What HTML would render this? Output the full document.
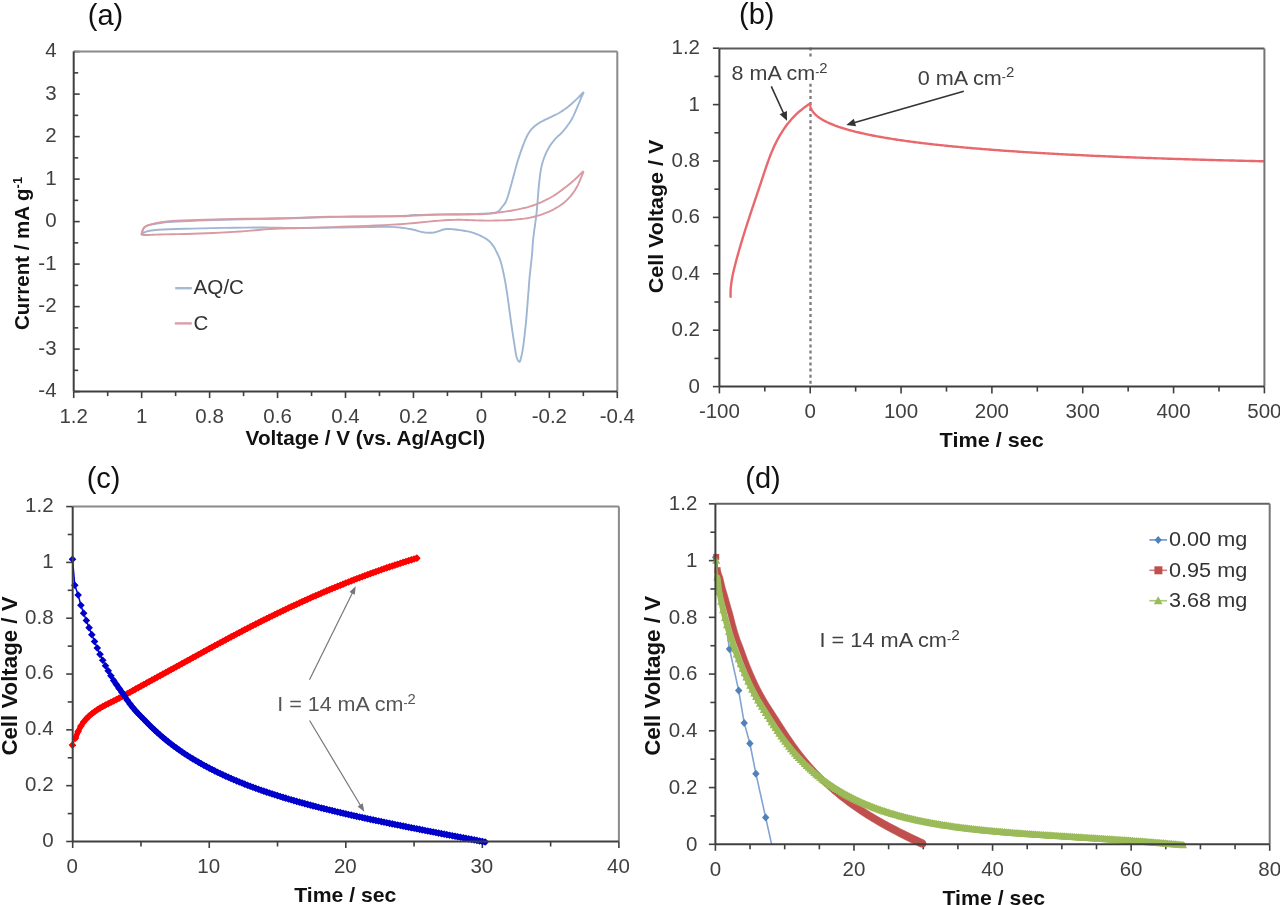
<!DOCTYPE html>
<html><head><meta charset="utf-8"><style>
html,body{margin:0;padding:0;background:#fff;width:1280px;height:905px;overflow:hidden}
</style></head><body>
<svg width="1280" height="905" viewBox="0 0 1280 905" style="position:absolute;left:0;top:0;filter:blur(0.55px)">
<defs>
<marker id="mb" viewBox="-5 -5 10 10" markerWidth="10" markerHeight="10" markerUnits="userSpaceOnUse" orient="0"><path d="M0,-3.8L3.8,0L0,3.8L-3.8,0Z" fill="#0000cc"/></marker>
<marker id="mr" viewBox="-4 -4 8 8" markerWidth="8" markerHeight="8" markerUnits="userSpaceOnUse" orient="0"><path d="M0,-3.8L3.8,0L0,3.8L-3.8,0Z" fill="#ff0000"/></marker>
<marker id="ms" viewBox="-4 -4 8 8" markerWidth="8" markerHeight="8" markerUnits="userSpaceOnUse" orient="0"><path d="M-3,-3H3V3H-3Z" fill="#c0504d"/></marker>
<marker id="mt" viewBox="-4 -4 8 8" markerWidth="8" markerHeight="8" markerUnits="userSpaceOnUse" orient="0"><path d="M0,-4.1L4.1,3.3L-4.1,3.3Z" fill="#9bbb59"/></marker>
</defs>
<g font-family='"Liberation Sans", sans-serif'>
<text x="87.8" y="25" font-size="29" fill="#111" text-anchor="start" font-weight="normal" >(a)</text>
<line x1="73.7" y1="391.6" x2="79.7" y2="391.6" stroke="#3f3f3f" stroke-width="1.6" />
<line x1="73.7" y1="370.35" x2="78.2" y2="370.35" stroke="#3f3f3f" stroke-width="1.6" />
<line x1="73.7" y1="349.1" x2="79.7" y2="349.1" stroke="#3f3f3f" stroke-width="1.6" />
<line x1="73.7" y1="327.85" x2="78.2" y2="327.85" stroke="#3f3f3f" stroke-width="1.6" />
<line x1="73.7" y1="306.6" x2="79.7" y2="306.6" stroke="#3f3f3f" stroke-width="1.6" />
<line x1="73.7" y1="285.35" x2="78.2" y2="285.35" stroke="#3f3f3f" stroke-width="1.6" />
<line x1="73.7" y1="264.1" x2="79.7" y2="264.1" stroke="#3f3f3f" stroke-width="1.6" />
<line x1="73.7" y1="242.85" x2="78.2" y2="242.85" stroke="#3f3f3f" stroke-width="1.6" />
<line x1="73.7" y1="221.6" x2="79.7" y2="221.6" stroke="#3f3f3f" stroke-width="1.6" />
<line x1="73.7" y1="200.35" x2="78.2" y2="200.35" stroke="#3f3f3f" stroke-width="1.6" />
<line x1="73.7" y1="179.1" x2="79.7" y2="179.1" stroke="#3f3f3f" stroke-width="1.6" />
<line x1="73.7" y1="157.85" x2="78.2" y2="157.85" stroke="#3f3f3f" stroke-width="1.6" />
<line x1="73.7" y1="136.6" x2="79.7" y2="136.6" stroke="#3f3f3f" stroke-width="1.6" />
<line x1="73.7" y1="115.35" x2="78.2" y2="115.35" stroke="#3f3f3f" stroke-width="1.6" />
<line x1="73.7" y1="94.1" x2="79.7" y2="94.1" stroke="#3f3f3f" stroke-width="1.6" />
<line x1="73.7" y1="72.85" x2="78.2" y2="72.85" stroke="#3f3f3f" stroke-width="1.6" />
<line x1="73.7" y1="51.6" x2="79.7" y2="51.6" stroke="#3f3f3f" stroke-width="1.6" />
<line x1="73.7" y1="391.6" x2="73.7" y2="398.1" stroke="#3f3f3f" stroke-width="1.6" />
<line x1="107.68" y1="391.6" x2="107.68" y2="396.1" stroke="#3f3f3f" stroke-width="1.6" />
<line x1="141.65" y1="391.6" x2="141.65" y2="398.1" stroke="#3f3f3f" stroke-width="1.6" />
<line x1="175.62" y1="391.6" x2="175.62" y2="396.1" stroke="#3f3f3f" stroke-width="1.6" />
<line x1="209.6" y1="391.6" x2="209.6" y2="398.1" stroke="#3f3f3f" stroke-width="1.6" />
<line x1="243.57" y1="391.6" x2="243.57" y2="396.1" stroke="#3f3f3f" stroke-width="1.6" />
<line x1="277.55" y1="391.6" x2="277.55" y2="398.1" stroke="#3f3f3f" stroke-width="1.6" />
<line x1="311.53" y1="391.6" x2="311.53" y2="396.1" stroke="#3f3f3f" stroke-width="1.6" />
<line x1="345.5" y1="391.6" x2="345.5" y2="398.1" stroke="#3f3f3f" stroke-width="1.6" />
<line x1="379.48" y1="391.6" x2="379.48" y2="396.1" stroke="#3f3f3f" stroke-width="1.6" />
<line x1="413.45" y1="391.6" x2="413.45" y2="398.1" stroke="#3f3f3f" stroke-width="1.6" />
<line x1="447.43" y1="391.6" x2="447.43" y2="396.1" stroke="#3f3f3f" stroke-width="1.6" />
<line x1="481.4" y1="391.6" x2="481.4" y2="398.1" stroke="#3f3f3f" stroke-width="1.6" />
<line x1="515.38" y1="391.6" x2="515.38" y2="396.1" stroke="#3f3f3f" stroke-width="1.6" />
<line x1="549.35" y1="391.6" x2="549.35" y2="398.1" stroke="#3f3f3f" stroke-width="1.6" />
<line x1="583.33" y1="391.6" x2="583.33" y2="396.1" stroke="#3f3f3f" stroke-width="1.6" />
<line x1="617.3" y1="391.6" x2="617.3" y2="398.1" stroke="#3f3f3f" stroke-width="1.6" />
<polyline points="141.5,234 141.82,233.14 142.14,231.91 142.59,230.47 143.24,228.98 144.22,227.61 145.6,226.5 147.51,225.66 149.87,224.96 152.56,224.38 155.4,223.87 158.27,223.42 161,223 163.27,222.64 165.14,222.36 167.03,222.14 169.35,221.94 172.53,221.74 177,221.5 182.87,221.22 189.81,220.93 197.62,220.64 206.07,220.34 214.94,220.06 224,219.8 233.67,219.56 244.22,219.34 255.19,219.14 266.11,218.93 276.53,218.72 286,218.5 294.07,218.25 301.04,217.98 307.5,217.71 314.07,217.44 321.37,217.2 330,217 340.8,216.86 353.44,216.76 366.81,216.69 379.78,216.63 391.22,216.54 400,216.4 405.34,216.21 407.96,215.97 409.06,215.71 409.81,215.45 411.4,215.21 415,215 421.05,214.83 428.7,214.67 437.19,214.54 445.74,214.41 453.6,214.3 460,214.2 464.9,214.11 468.89,214.04 472.19,213.99 475,213.93 477.53,213.87 480,213.8 482.27,213.72 484.16,213.65 485.77,213.57 487.21,213.47 488.58,213.35 490,213.2 491.46,213.04 492.86,212.89 494.21,212.71 495.47,212.47 496.64,212.15 497.7,211.7 498.61,211.13 499.38,210.45 500.05,209.68 500.68,208.84 501.31,207.94 502,207 502.73,206.11 503.46,205.29 504.19,204.41 504.93,203.35 505.7,201.99 506.5,200.2 507.34,197.9 508.21,195.17 509.1,192.14 510,188.93 510.91,185.67 511.8,182.5 512.68,179.32 513.57,176.03 514.45,172.69 515.33,169.37 516.22,166.15 517.1,163.1 517.98,160.21 518.87,157.41 519.75,154.71 520.63,152.11 521.52,149.61 522.4,147.2 523.28,144.87 524.17,142.61 525.05,140.45 525.93,138.41 526.82,136.52 527.7,134.8 528.56,133.29 529.4,131.97 530.24,130.81 531.1,129.74 532.01,128.72 533,127.7 534.04,126.71 535.1,125.8 536.22,124.94 537.41,124.1 538.69,123.26 540.1,122.4 541.68,121.51 543.44,120.6 545.29,119.69 547.17,118.8 549,117.93 550.7,117.1 552.27,116.34 553.76,115.63 555.21,114.96 556.63,114.27 558.05,113.53 559.5,112.7 560.98,111.79 562.46,110.83 563.95,109.82 565.44,108.76 566.92,107.65 568.4,106.5 569.9,105.26 571.44,103.93 572.97,102.55 574.46,101.17 575.88,99.84 577.2,98.6 578.48,97.33 579.78,95.97 581,94.66 582.07,93.53 582.89,92.73 583.4,92.4 583.49,92.66 583.22,93.41 582.71,94.5 582.09,95.74 581.48,96.96 581,98 580.7,98.74 580.49,99.31 580.29,99.86 580.03,100.55 579.62,101.54 579,103 578.13,105.06 577.08,107.62 575.88,110.49 574.59,113.46 573.25,116.33 571.9,118.9 570.52,121.21 569.06,123.43 567.56,125.54 566.03,127.56 564.5,129.48 563,131.3 561.51,132.95 559.99,134.43 558.48,135.81 557,137.17 555.56,138.57 554.2,140.1 552.91,141.72 551.67,143.37 550.48,145.07 549.34,146.84 548.25,148.71 547.2,150.7 546.19,152.81 545.21,155.01 544.28,157.31 543.41,159.7 542.61,162.2 541.9,164.8 541.29,167.5 540.77,170.3 540.33,173.21 539.94,176.21 539.57,179.31 539.2,182.5 538.84,185.93 538.51,189.63 538.21,193.43 537.92,197.16 537.65,200.64 537.4,203.7 537.18,206.17 537.02,208.13 536.87,209.86 536.7,211.59 536.49,213.59 536.2,216.1 535.8,219.26 535.3,222.88 534.76,226.76 534.21,230.71 533.71,234.52 533.3,238 533,241.08 532.78,243.92 532.61,246.62 532.44,249.29 532.25,252.05 532,255 531.67,258.22 531.3,261.63 530.89,265.12 530.49,268.59 530.12,271.92 529.8,275 529.54,277.85 529.31,280.56 529.11,283.12 528.93,285.56 528.77,287.85 528.6,290 528.46,291.8 528.34,293.21 528.24,294.49 528.13,295.87 527.99,297.63 527.8,300 527.56,303.1 527.28,306.76 526.97,310.78 526.63,314.98 526.28,319.18 525.9,323.2 525.49,327.21 525.03,331.4 524.56,335.59 524.08,339.6 523.62,343.26 523.2,346.4 522.82,348.96 522.47,351.08 522.14,352.84 521.83,354.36 521.51,355.71 521.2,357 520.9,358.26 520.62,359.42 520.35,360.42 520.07,361.2 519.76,361.72 519.4,361.9 518.98,361.72 518.51,361.2 518.01,360.42 517.5,359.42 517.03,358.26 516.6,357 516.25,355.71 515.96,354.36 515.69,352.84 515.42,351.08 515.1,348.96 514.7,346.4 514.21,343.27 513.64,339.61 513.03,335.61 512.4,331.43 511.78,327.24 511.2,323.2 510.63,319.12 510.04,314.82 509.46,310.51 508.91,306.39 508.42,302.69 508,299.6 507.68,297.29 507.44,295.61 507.26,294.34 507.1,293.25 506.92,292.11 506.7,290.7 506.43,289.03 506.15,287.29 505.86,285.51 505.55,283.7 505.23,281.89 504.9,280.1 504.56,278.32 504.21,276.53 503.85,274.74 503.48,272.97 503.09,271.21 502.7,269.5 502.3,267.81 501.9,266.14 501.49,264.49 501.06,262.87 500.6,261.31 500.1,259.8 499.56,258.35 498.97,256.94 498.36,255.58 497.73,254.27 497.11,253.01 496.5,251.8 495.93,250.66 495.39,249.58 494.86,248.56 494.3,247.56 493.69,246.58 493,245.6 492.26,244.61 491.5,243.63 490.69,242.67 489.8,241.72 488.81,240.8 487.7,239.9 486.42,239.02 485,238.14 483.47,237.29 481.89,236.47 480.32,235.7 478.8,235 477.4,234.37 476.09,233.81 474.78,233.29 473.39,232.81 471.82,232.36 470,231.9 467.8,231.44 465.27,230.97 462.57,230.53 459.86,230.12 457.28,229.77 455,229.5 453.03,229.29 451.26,229.13 449.62,229.02 448.07,228.99 446.55,229.05 445,229.2 443.41,229.51 441.81,229.98 440.25,230.53 438.74,231.1 437.31,231.61 436,232 434.85,232.27 433.85,232.47 432.94,232.63 432.04,232.73 431.08,232.78 430,232.8 428.83,232.78 427.63,232.73 426.38,232.64 425.04,232.49 423.59,232.28 422,232 420.32,231.62 418.59,231.13 416.75,230.58 414.74,230.01 412.51,229.47 410,229 407.36,228.57 404.67,228.14 401.75,227.73 398.44,227.37 394.58,227.09 390,226.9 384.61,226.83 378.52,226.87 371.88,226.98 364.81,227.13 357.48,227.28 350,227.4 342.19,227.51 333.89,227.63 325.31,227.76 316.67,227.88 308.16,227.96 300,228 292.41,227.96 285.28,227.86 278.28,227.72 271.11,227.59 263.45,227.5 255,227.5 245.33,227.58 234.6,227.73 223.38,227.92 212.25,228.14 201.77,228.37 192.5,228.6 184.31,228.81 176.73,229.01 169.79,229.23 163.55,229.49 158.07,229.8 153.4,230.2 149.7,230.75 146.98,231.44 145.01,232.2 143.58,232.93 142.48,233.56 141.5,234" fill="none" stroke="#9fb6d4" stroke-width="1.9" stroke-linejoin="round" stroke-linecap="round" />
<polyline points="141.5,234.5 141.81,233.56 142.13,232.22 142.57,230.65 143.22,229.03 144.2,227.52 145.6,226.3 147.55,225.36 149.98,224.56 152.73,223.88 155.64,223.29 158.55,222.77 161.3,222.3 163.54,221.91 165.35,221.62 167.15,221.4 169.39,221.21 172.49,221.03 176.9,220.8 182.72,220.53 189.64,220.26 197.42,219.98 205.85,219.7 214.72,219.44 223.8,219.2 233.53,218.99 244.17,218.8 255.25,218.63 266.28,218.46 276.79,218.29 286.3,218.1 294.37,217.89 301.29,217.66 307.68,217.43 314.18,217.2 321.41,216.99 330,216.8 340.49,216.64 352.5,216.52 365.23,216.41 377.91,216.29 389.77,216.16 400,216 408.4,215.79 415.56,215.54 421.88,215.27 427.78,215.01 433.68,214.78 440,214.6 446.92,214.5 454.16,214.47 461.39,214.47 468.32,214.46 474.62,214.42 480,214.3 484.24,214.11 487.56,213.87 490.25,213.6 492.63,213.29 495.01,212.96 497.7,212.6 500.64,212.23 503.57,211.84 506.5,211.42 509.43,210.96 512.36,210.46 515.3,209.9 518.24,209.31 521.19,208.69 524.14,208.03 527.1,207.3 530.05,206.46 533,205.5 535.99,204.39 539.03,203.16 542.08,201.83 545.07,200.43 547.96,198.97 550.7,197.5 553.3,195.97 555.8,194.36 558.19,192.7 560.49,191.03 562.69,189.38 564.8,187.8 566.8,186.27 568.7,184.75 570.51,183.26 572.22,181.8 573.85,180.38 575.4,179 576.94,177.55 578.49,175.98 579.95,174.46 581.24,173.12 582.29,172.12 583,171.6 583.34,171.58 583.38,171.95 583.16,172.66 582.76,173.65 582.22,174.88 581.6,176.3 580.9,178.03 580.05,180.13 579.08,182.47 577.97,184.91 576.74,187.34 575.4,189.6 573.93,191.76 572.32,193.93 570.59,196.08 568.76,198.17 566.82,200.15 564.8,202 562.69,203.71 560.49,205.3 558.19,206.79 555.8,208.19 553.3,209.53 550.7,210.8 547.96,212.03 545.07,213.19 542.08,214.29 539.03,215.3 535.99,216.21 533,217 530.05,217.66 527.1,218.2 524.14,218.63 521.19,218.99 518.24,219.31 515.3,219.6 512.36,219.86 509.43,220.06 506.5,220.21 503.57,220.33 500.64,220.42 497.7,220.5 494.78,220.56 491.89,220.59 489,220.6 486.07,220.59 483.08,220.55 480,220.5 476.8,220.41 473.5,220.26 470.14,220.1 466.75,219.95 463.36,219.84 460,219.8 456.9,219.81 454.07,219.85 451.25,219.93 448.15,220.07 444.49,220.29 440,220.6 434.61,221.05 428.52,221.64 421.88,222.31 414.81,222.99 407.48,223.64 400,224.2 392.25,224.67 384.07,225.09 375.62,225.47 367.04,225.83 358.45,226.17 350,226.5 341.44,226.82 332.59,227.11 323.75,227.39 315.19,227.64 307.18,227.88 300,228.1 293.84,228.27 288.52,228.39 283.75,228.49 279.26,228.61 274.77,228.77 270,229 265.12,229.33 260.37,229.73 255.62,230.18 250.74,230.64 245.58,231.09 240,231.5 233.91,231.87 227.41,232.24 220.62,232.59 213.7,232.93 206.78,233.23 200,233.5 193.04,233.73 185.74,233.93 178.44,234.09 171.48,234.24 165.22,234.37 160,234.5 155.92,234.62 152.72,234.74 150.22,234.84 148.22,234.93 146.55,234.98 145,235 143.71,234.97 142.85,234.89 142.31,234.78 141.98,234.67 141.75,234.57 141.5,234.5" fill="none" stroke="#d99aa2" stroke-width="1.9" stroke-linejoin="round" stroke-linecap="round" />
<line x1="73.7" y1="51.6" x2="617.3" y2="51.6" stroke="#8a8a8a" stroke-width="2" />
<line x1="617.3" y1="51.6" x2="617.3" y2="391.6" stroke="#8a8a8a" stroke-width="2" />
<line x1="73.7" y1="51.6" x2="73.7" y2="391.6" stroke="#3f3f3f" stroke-width="2" />
<line x1="73.7" y1="391.6" x2="617.3" y2="391.6" stroke="#3f3f3f" stroke-width="2" />
<text x="56.6" y="397.2" font-size="20.5" fill="#404040" text-anchor="end" font-weight="normal" >-4</text>
<text x="56.6" y="354.7" font-size="20.5" fill="#404040" text-anchor="end" font-weight="normal" >-3</text>
<text x="56.6" y="312.2" font-size="20.5" fill="#404040" text-anchor="end" font-weight="normal" >-2</text>
<text x="56.6" y="269.7" font-size="20.5" fill="#404040" text-anchor="end" font-weight="normal" >-1</text>
<text x="56.6" y="227.2" font-size="20.5" fill="#404040" text-anchor="end" font-weight="normal" >0</text>
<text x="56.6" y="184.7" font-size="20.5" fill="#404040" text-anchor="end" font-weight="normal" >1</text>
<text x="56.6" y="142.2" font-size="20.5" fill="#404040" text-anchor="end" font-weight="normal" >2</text>
<text x="56.6" y="99.7" font-size="20.5" fill="#404040" text-anchor="end" font-weight="normal" >3</text>
<text x="56.6" y="57.2" font-size="20.5" fill="#404040" text-anchor="end" font-weight="normal" >4</text>
<text x="73.7" y="423.3" font-size="20.5" fill="#404040" text-anchor="middle" font-weight="normal" >1.2</text>
<text x="141.65" y="423.3" font-size="20.5" fill="#404040" text-anchor="middle" font-weight="normal" >1</text>
<text x="209.6" y="423.3" font-size="20.5" fill="#404040" text-anchor="middle" font-weight="normal" >0.8</text>
<text x="277.55" y="423.3" font-size="20.5" fill="#404040" text-anchor="middle" font-weight="normal" >0.6</text>
<text x="345.5" y="423.3" font-size="20.5" fill="#404040" text-anchor="middle" font-weight="normal" >0.4</text>
<text x="413.45" y="423.3" font-size="20.5" fill="#404040" text-anchor="middle" font-weight="normal" >0.2</text>
<text x="481.4" y="423.3" font-size="20.5" fill="#404040" text-anchor="middle" font-weight="normal" >0</text>
<text x="549.35" y="423.3" font-size="20.5" fill="#404040" text-anchor="middle" font-weight="normal" >-0.2</text>
<text x="617.3" y="423.3" font-size="20.5" fill="#404040" text-anchor="middle" font-weight="normal" >-0.4</text>
<text x="245.6" y="445" font-size="20.5" fill="#111111" text-anchor="start" font-weight="bold" textLength="239.5" lengthAdjust="spacingAndGlyphs" >Voltage / V (vs. Ag/AgCl)</text>
<text transform="translate(28.5,330) rotate(-90)" font-size="20.5" font-weight="bold" fill="#111111">Current / mA g<tspan font-size="13" dy="-7">-1</tspan></text>
<line x1="175.2" y1="288.2" x2="191.8" y2="288.2" stroke="#a6bad4" stroke-width="2.4" />
<text x="193.6" y="294.3" font-size="20.5" fill="#333" text-anchor="start" font-weight="normal" textLength="50.4" lengthAdjust="spacingAndGlyphs" >AQ/C</text>
<line x1="174.8" y1="323.4" x2="191.8" y2="323.4" stroke="#d9a0a8" stroke-width="2.4" />
<text x="193.6" y="329.5" font-size="20.5" fill="#333" text-anchor="start" font-weight="normal" >C</text>
<text x="739" y="23.5" font-size="29" fill="#111" text-anchor="start" font-weight="normal" >(b)</text>
<line x1="712.9" y1="386.6" x2="719.4" y2="386.6" stroke="#3f3f3f" stroke-width="1.6" />
<line x1="714.4" y1="358.4" x2="719.4" y2="358.4" stroke="#3f3f3f" stroke-width="1.6" />
<line x1="712.9" y1="330.2" x2="719.4" y2="330.2" stroke="#3f3f3f" stroke-width="1.6" />
<line x1="714.4" y1="302" x2="719.4" y2="302" stroke="#3f3f3f" stroke-width="1.6" />
<line x1="712.9" y1="273.8" x2="719.4" y2="273.8" stroke="#3f3f3f" stroke-width="1.6" />
<line x1="714.4" y1="245.6" x2="719.4" y2="245.6" stroke="#3f3f3f" stroke-width="1.6" />
<line x1="712.9" y1="217.4" x2="719.4" y2="217.4" stroke="#3f3f3f" stroke-width="1.6" />
<line x1="714.4" y1="189.2" x2="719.4" y2="189.2" stroke="#3f3f3f" stroke-width="1.6" />
<line x1="712.9" y1="161" x2="719.4" y2="161" stroke="#3f3f3f" stroke-width="1.6" />
<line x1="714.4" y1="132.8" x2="719.4" y2="132.8" stroke="#3f3f3f" stroke-width="1.6" />
<line x1="712.9" y1="104.6" x2="719.4" y2="104.6" stroke="#3f3f3f" stroke-width="1.6" />
<line x1="714.4" y1="76.4" x2="719.4" y2="76.4" stroke="#3f3f3f" stroke-width="1.6" />
<line x1="712.9" y1="48.2" x2="719.4" y2="48.2" stroke="#3f3f3f" stroke-width="1.6" />
<line x1="719.4" y1="386.6" x2="719.4" y2="393.4" stroke="#3f3f3f" stroke-width="1.6" />
<line x1="764.82" y1="386.6" x2="764.82" y2="391.6" stroke="#3f3f3f" stroke-width="1.6" />
<line x1="810.23" y1="386.6" x2="810.23" y2="393.4" stroke="#3f3f3f" stroke-width="1.6" />
<line x1="855.65" y1="386.6" x2="855.65" y2="391.6" stroke="#3f3f3f" stroke-width="1.6" />
<line x1="901.07" y1="386.6" x2="901.07" y2="393.4" stroke="#3f3f3f" stroke-width="1.6" />
<line x1="946.48" y1="386.6" x2="946.48" y2="391.6" stroke="#3f3f3f" stroke-width="1.6" />
<line x1="991.9" y1="386.6" x2="991.9" y2="393.4" stroke="#3f3f3f" stroke-width="1.6" />
<line x1="1037.32" y1="386.6" x2="1037.32" y2="391.6" stroke="#3f3f3f" stroke-width="1.6" />
<line x1="1082.73" y1="386.6" x2="1082.73" y2="393.4" stroke="#3f3f3f" stroke-width="1.6" />
<line x1="1128.15" y1="386.6" x2="1128.15" y2="391.6" stroke="#3f3f3f" stroke-width="1.6" />
<line x1="1173.57" y1="386.6" x2="1173.57" y2="393.4" stroke="#3f3f3f" stroke-width="1.6" />
<line x1="1218.98" y1="386.6" x2="1218.98" y2="391.6" stroke="#3f3f3f" stroke-width="1.6" />
<line x1="1264.4" y1="386.6" x2="1264.4" y2="393.4" stroke="#3f3f3f" stroke-width="1.6" />
<line x1="810.5" y1="47.44" x2="810.5" y2="386.6" stroke="#7a7a7a" stroke-width="2.3" stroke-dasharray="3 3.06"/>
<rect x="728" y="57.5" width="104" height="25.5" fill="#fff"/>
<polyline points="730.63,296.9 730.59,295.93 730.57,294.97 730.56,294 730.56,293.03 730.57,292.07 730.6,291.1 730.65,290.13 730.7,289.17 730.77,288.2 730.85,287.23 730.94,286.26 731.05,285.3 731.16,284.33 731.28,283.36 731.42,282.4 731.56,281.43 731.71,280.46 731.88,279.5 732.05,278.53 732.22,277.56 732.41,276.6 732.6,275.63 732.8,274.66 733.01,273.7 733.22,272.73 733.44,271.76 733.66,270.8 733.89,269.83 734.12,268.86 734.36,267.89 734.6,266.93 734.84,265.96 735.09,264.99 735.34,264.03 735.59,263.06 735.84,262.09 736.1,261.13 736.35,260.16 736.61,259.19 736.87,258.23 737.14,257.26 737.4,256.29 737.67,255.33 737.94,254.36 738.21,253.39 738.48,252.43 738.75,251.46 739.03,250.49 739.31,249.53 739.59,248.56 739.87,247.59 740.15,246.62 740.43,245.66 740.72,244.69 741,243.72 741.29,242.76 741.58,241.79 741.87,240.82 742.17,239.86 742.46,238.89 742.76,237.92 743.05,236.96 743.35,235.99 743.65,235.02 743.95,234.06 744.25,233.09 744.55,232.12 744.86,231.16 745.16,230.19 745.47,229.22 745.78,228.25 746.08,227.29 746.39,226.32 746.7,225.35 747.01,224.39 747.33,223.42 747.64,222.45 747.95,221.49 748.27,220.52 748.58,219.55 748.9,218.59 749.22,217.62 749.53,216.65 749.85,215.69 750.17,214.72 750.49,213.75 750.81,212.79 751.13,211.82 751.45,210.85 751.77,209.88 752.09,208.92 752.42,207.95 752.74,206.98 753.06,206.02 753.39,205.05 753.71,204.08 754.03,203.12 754.36,202.15 754.68,201.18 755.01,200.22 755.33,199.25 755.66,198.28 755.98,197.32 756.31,196.35 756.63,195.38 756.96,194.42 757.29,193.45 757.61,192.48 757.94,191.52 758.26,190.55 758.59,189.58 758.91,188.61 759.24,187.65 759.56,186.68 759.89,185.71 760.21,184.75 760.54,183.78 760.86,182.81 761.18,181.85 761.51,180.88 761.83,179.91 762.15,178.95 762.47,177.98 762.79,177.01 763.11,176.05 763.43,175.08 763.75,174.11 764.07,173.15 764.39,172.18 764.72,171.21 765.04,170.24 765.36,169.28 765.69,168.31 766.02,167.34 766.35,166.38 766.68,165.41 767.01,164.44 767.35,163.48 767.69,162.51 768.04,161.54 768.39,160.58 768.74,159.61 769.1,158.64 769.46,157.68 769.83,156.71 770.21,155.74 770.59,154.78 770.97,153.81 771.37,152.84 771.76,151.87 772.17,150.91 772.58,149.94 773.01,148.97 773.43,148.01 773.87,147.04 774.32,146.07 774.77,145.11 775.24,144.14 775.71,143.17 776.19,142.21 776.68,141.24 777.19,140.27 777.7,139.31 778.23,138.34 778.76,137.37 779.31,136.41 779.87,135.44 780.44,134.47 781.02,133.51 781.62,132.54 782.23,131.57 782.85,130.6 783.49,129.64 784.14,128.67 784.8,127.7 785.48,126.74 786.18,125.77 786.9,124.8 787.64,123.84 788.4,122.87 789.19,121.9 789.99,120.94 790.82,119.97 791.68,119 792.57,118.04 793.48,117.07 794.42,116.1 795.4,115.14 796.4,114.17 797.44,113.2 798.52,112.23 799.63,111.27 800.77,110.3 801.96,109.33 803.18,108.37 804.44,107.4 805.75,106.43 807.1,105.47 808.49,104.5 810.23,103.97 810.24,104.32 810.25,104.67 810.28,105.02 810.31,105.37 810.36,105.72 810.42,106.06 810.48,106.4 810.56,106.75 810.64,107.09 810.74,107.43 810.85,107.76 810.96,108.1 811.09,108.44 811.23,108.77 811.37,109.1 811.53,109.44 811.7,109.77 811.87,110.1 812.06,110.42 812.26,110.75 812.47,111.08 812.68,111.4 812.91,111.72 813.15,112.05 813.4,112.37 813.66,112.69 813.92,113 814.2,113.32 814.49,113.64 814.79,113.95 815.1,114.26 815.42,114.57 815.75,114.88 816.09,115.19 816.44,115.5 816.8,115.81 817.17,116.11 817.55,116.42 817.94,116.72 818.34,117.02 818.75,117.32 819.17,117.62 819.6,117.92 820.04,118.22 820.49,118.51 820.95,118.81 821.42,119.1 821.9,119.39 822.39,119.68 822.89,119.97 823.41,120.26 823.93,120.55 824.46,120.84 825,121.12 825.55,121.41 826.12,121.69 826.69,121.97 827.27,122.25 827.86,122.53 828.47,122.81 829.08,123.08 829.7,123.36 830.33,123.63 830.98,123.91 831.63,124.18 832.29,124.45 832.97,124.72 833.65,124.99 834.34,125.25 835.05,125.52 835.76,125.79 836.49,126.05 837.22,126.31 837.97,126.57 838.72,126.84 839.49,127.09 840.26,127.35 841.05,127.61 841.84,127.87 842.65,128.12 843.46,128.37 844.29,128.63 845.12,128.88 845.97,129.13 846.82,129.38 847.69,129.63 848.57,129.87 849.45,130.12 850.35,130.37 851.26,130.61 852.17,130.85 853.1,131.09 854.04,131.33 854.98,131.57 855.94,131.81 856.91,132.05 857.88,132.28 858.87,132.52 859.87,132.75 860.88,132.99 861.9,133.22 862.92,133.45 863.96,133.68 865.01,133.91 866.07,134.14 867.14,134.36 868.22,134.59 869.3,134.81 870.4,135.04 871.51,135.26 872.63,135.48 873.76,135.7 874.9,135.92 876.05,136.14 877.21,136.35 878.38,136.57 879.56,136.79 880.75,137 881.95,137.21 883.16,137.42 884.38,137.64 885.61,137.85 886.85,138.05 888.1,138.26 889.37,138.47 890.64,138.67 891.92,138.88 893.21,139.08 894.51,139.29 895.82,139.49 897.14,139.69 898.48,139.89 899.82,140.09 901.17,140.29 902.53,140.48 903.91,140.68 905.29,140.87 906.68,141.07 908.08,141.26 909.5,141.45 910.92,141.64 912.35,141.83 913.8,142.02 915.25,142.21 916.71,142.4 918.19,142.58 919.67,142.77 921.16,142.95 922.67,143.14 924.18,143.32 925.71,143.5 927.24,143.68 928.79,143.86 930.34,144.04 931.91,144.22 933.48,144.39 935.07,144.57 936.66,144.74 938.27,144.92 939.88,145.09 941.51,145.26 943.14,145.43 944.79,145.61 946.45,145.77 948.11,145.94 949.79,146.11 951.48,146.28 953.17,146.44 954.88,146.61 956.6,146.77 958.32,146.93 960.06,147.1 961.81,147.26 963.56,147.42 965.33,147.58 967.11,147.74 968.9,147.89 970.7,148.05 972.5,148.21 974.32,148.36 976.15,148.52 977.99,148.67 979.84,148.82 981.7,148.97 983.56,149.12 985.44,149.27 987.33,149.42 989.23,149.57 991.14,149.72 993.06,149.86 994.99,150.01 996.93,150.15 998.88,150.3 1000.84,150.44 1002.81,150.58 1004.79,150.72 1006.78,150.86 1008.78,151 1010.79,151.14 1012.81,151.28 1014.84,151.42 1016.88,151.55 1018.93,151.69 1021,151.83 1023.07,151.96 1025.15,152.09 1027.24,152.22 1029.34,152.36 1031.45,152.49 1033.58,152.62 1035.71,152.75 1037.85,152.87 1040,153 1042.16,153.13 1044.34,153.25 1046.52,153.38 1048.71,153.5 1050.92,153.63 1053.13,153.75 1055.35,153.87 1057.59,153.99 1059.83,154.11 1062.08,154.23 1064.35,154.35 1066.62,154.47 1068.9,154.59 1071.2,154.7 1073.5,154.82 1075.82,154.94 1078.14,155.05 1080.48,155.16 1082.82,155.28 1085.18,155.39 1087.54,155.5 1089.92,155.61 1092.3,155.72 1094.7,155.83 1097.1,155.94 1099.52,156.05 1101.95,156.15 1104.38,156.26 1106.83,156.36 1109.28,156.47 1111.75,156.57 1114.23,156.68 1116.71,156.78 1119.21,156.88 1121.72,156.98 1124.23,157.08 1126.76,157.18 1129.3,157.28 1131.85,157.38 1134.4,157.48 1136.97,157.58 1139.55,157.67 1142.14,157.77 1144.73,157.86 1147.34,157.96 1149.96,158.05 1152.59,158.14 1155.23,158.24 1157.88,158.33 1160.54,158.42 1163.2,158.51 1165.88,158.6 1168.57,158.69 1171.27,158.78 1173.98,158.86 1176.7,158.95 1179.43,159.04 1182.17,159.12 1184.92,159.21 1187.68,159.29 1190.45,159.37 1193.23,159.46 1196.02,159.54 1198.82,159.62 1201.63,159.7 1204.45,159.78 1207.29,159.86 1210.13,159.94 1212.98,160.02 1215.84,160.1 1218.71,160.18 1221.59,160.25 1224.48,160.33 1227.39,160.41 1230.3,160.48 1233.22,160.56 1236.15,160.63 1239.1,160.7 1242.05,160.77 1245.01,160.85 1247.98,160.92 1250.97,160.99 1253.96,161.06 1256.96,161.13 1259.98,161.2 1263,161.27" fill="none" stroke="#e8686e" stroke-width="2.4" stroke-linejoin="round" stroke-linecap="round" />
<line x1="719.4" y1="48.4" x2="1264.4" y2="48.4" stroke="#595959" stroke-width="2" />
<line x1="1264.4" y1="48.4" x2="1264.4" y2="386.6" stroke="#737373" stroke-width="2" />
<line x1="719.4" y1="48.4" x2="719.4" y2="386.6" stroke="#3f3f3f" stroke-width="2" />
<line x1="719.4" y1="386.6" x2="1264.4" y2="386.6" stroke="#3f3f3f" stroke-width="2" />
<text x="700" y="392.5" font-size="20.5" fill="#404040" text-anchor="end" font-weight="normal" >0</text>
<text x="700" y="336.1" font-size="20.5" fill="#404040" text-anchor="end" font-weight="normal" >0.2</text>
<text x="700" y="279.7" font-size="20.5" fill="#404040" text-anchor="end" font-weight="normal" >0.4</text>
<text x="700" y="223.3" font-size="20.5" fill="#404040" text-anchor="end" font-weight="normal" >0.6</text>
<text x="700" y="166.9" font-size="20.5" fill="#404040" text-anchor="end" font-weight="normal" >0.8</text>
<text x="700" y="110.5" font-size="20.5" fill="#404040" text-anchor="end" font-weight="normal" >1</text>
<text x="700" y="54.1" font-size="20.5" fill="#404040" text-anchor="end" font-weight="normal" >1.2</text>
<text x="719.4" y="418.3" font-size="20.5" fill="#404040" text-anchor="middle" font-weight="normal" >-100</text>
<text x="810.23" y="418.3" font-size="20.5" fill="#404040" text-anchor="middle" font-weight="normal" >0</text>
<text x="901.07" y="418.3" font-size="20.5" fill="#404040" text-anchor="middle" font-weight="normal" >100</text>
<text x="991.9" y="418.3" font-size="20.5" fill="#404040" text-anchor="middle" font-weight="normal" >200</text>
<text x="1082.73" y="418.3" font-size="20.5" fill="#404040" text-anchor="middle" font-weight="normal" >300</text>
<text x="1173.57" y="418.3" font-size="20.5" fill="#404040" text-anchor="middle" font-weight="normal" >400</text>
<text x="1264.4" y="418.3" font-size="20.5" fill="#404040" text-anchor="middle" font-weight="normal" >500</text>
<text x="939.6" y="446.6" font-size="21" fill="#111111" text-anchor="start" font-weight="bold" textLength="104.2" lengthAdjust="spacingAndGlyphs" >Time / sec</text>
<text transform="translate(663,293.2) rotate(-90)" font-size="21" font-weight="bold" fill="#111111" textLength="153.4" lengthAdjust="spacingAndGlyphs">Cell Voltage / V</text>
<text x="731.6" y="80.3" font-size="21" fill="#404040" textLength="96" lengthAdjust="spacingAndGlyphs">8 mA cm<tspan font-size="12" dy="-4.2">-</tspan><tspan font-size="14.5" dy="-3.3">2</tspan></text>
<text x="917.8" y="84.7" font-size="21" fill="#404040" textLength="96.5" lengthAdjust="spacingAndGlyphs">0 mA cm<tspan font-size="12" dy="-4.2">-</tspan><tspan font-size="14.5" dy="-3.3">2</tspan></text>
<line x1="771.3" y1="86.3" x2="783.69" y2="113.52" stroke="#333" stroke-width="1.6" />
<polygon points="787,120.8 779.63,114.27 786.91,110.95" fill="#333"/>
<line x1="963.8" y1="91.3" x2="853.99" y2="122.79" stroke="#333" stroke-width="1.6" />
<polygon points="846.3,125 853.85,118.67 856.05,126.36" fill="#333"/>
<text x="86.7" y="487.5" font-size="29" fill="#111" text-anchor="start" font-weight="normal" >(c)</text>
<line x1="66.2" y1="841.5" x2="72.7" y2="841.5" stroke="#3f3f3f" stroke-width="1.6" />
<line x1="67.7" y1="813.59" x2="72.7" y2="813.59" stroke="#3f3f3f" stroke-width="1.6" />
<line x1="66.2" y1="785.68" x2="72.7" y2="785.68" stroke="#3f3f3f" stroke-width="1.6" />
<line x1="67.7" y1="757.77" x2="72.7" y2="757.77" stroke="#3f3f3f" stroke-width="1.6" />
<line x1="66.2" y1="729.86" x2="72.7" y2="729.86" stroke="#3f3f3f" stroke-width="1.6" />
<line x1="67.7" y1="701.95" x2="72.7" y2="701.95" stroke="#3f3f3f" stroke-width="1.6" />
<line x1="66.2" y1="674.04" x2="72.7" y2="674.04" stroke="#3f3f3f" stroke-width="1.6" />
<line x1="67.7" y1="646.13" x2="72.7" y2="646.13" stroke="#3f3f3f" stroke-width="1.6" />
<line x1="66.2" y1="618.22" x2="72.7" y2="618.22" stroke="#3f3f3f" stroke-width="1.6" />
<line x1="67.7" y1="590.31" x2="72.7" y2="590.31" stroke="#3f3f3f" stroke-width="1.6" />
<line x1="66.2" y1="562.4" x2="72.7" y2="562.4" stroke="#3f3f3f" stroke-width="1.6" />
<line x1="67.7" y1="534.49" x2="72.7" y2="534.49" stroke="#3f3f3f" stroke-width="1.6" />
<line x1="66.2" y1="506.58" x2="72.7" y2="506.58" stroke="#3f3f3f" stroke-width="1.6" />
<line x1="72.7" y1="841.5" x2="72.7" y2="848" stroke="#3f3f3f" stroke-width="1.6" />
<line x1="140.97" y1="841.5" x2="140.97" y2="846.5" stroke="#3f3f3f" stroke-width="1.6" />
<line x1="209.25" y1="841.5" x2="209.25" y2="848" stroke="#3f3f3f" stroke-width="1.6" />
<line x1="277.52" y1="841.5" x2="277.52" y2="846.5" stroke="#3f3f3f" stroke-width="1.6" />
<line x1="345.8" y1="841.5" x2="345.8" y2="848" stroke="#3f3f3f" stroke-width="1.6" />
<line x1="414.07" y1="841.5" x2="414.07" y2="846.5" stroke="#3f3f3f" stroke-width="1.6" />
<line x1="482.35" y1="841.5" x2="482.35" y2="848" stroke="#3f3f3f" stroke-width="1.6" />
<line x1="550.62" y1="841.5" x2="550.62" y2="846.5" stroke="#3f3f3f" stroke-width="1.6" />
<line x1="618.9" y1="841.5" x2="618.9" y2="848" stroke="#3f3f3f" stroke-width="1.6" />
<polyline points="75.43,738.13 78.16,731.38 80.89,726.12 83.62,721.96 86.36,718.75 89.09,716.07 91.82,713.75 94.55,711.67 97.28,709.8 100.01,708.08 102.74,706.49 105.47,705.05 108.2,703.68 110.93,702.32 113.66,700.96 116.4,699.55 119.13,698.12 121.86,696.67 124.59,695.21 127.32,693.72 130.05,692.22 132.78,690.68 135.51,689.13 138.24,687.62 140.97,686.11 143.71,684.6 146.44,683.1 149.17,681.6 151.9,680.11 154.63,678.62 157.36,677.13 160.09,675.64 162.82,674.15 165.55,672.66 168.28,671.17 171.02,669.68 173.75,668.19 176.48,666.69 179.21,665.19 181.94,663.69 184.67,662.19 187.4,660.69 190.13,659.19 192.86,657.68 195.59,656.18 198.33,654.68 201.06,653.18 203.79,651.68 206.52,650.19 209.25,648.7 211.98,647.21 214.71,645.73 217.44,644.25 220.17,642.77 222.9,641.3 225.64,639.84 228.37,638.38 231.1,636.92 233.83,635.47 236.56,634.03 239.29,632.6 242.02,631.17 244.75,629.75 247.48,628.33 250.21,626.92 252.95,625.52 255.68,624.13 258.41,622.74 261.14,621.37 263.87,620 266.6,618.63 269.33,617.28 272.06,615.94 274.79,614.6 277.52,613.27 280.26,611.95 282.99,610.64 285.72,609.34 288.45,608.05 291.18,606.76 293.91,605.49 296.64,604.22 299.37,602.96 302.1,601.71 304.83,600.48 307.57,599.25 310.3,598.03 313.03,596.82 315.76,595.62 318.49,594.43 321.22,593.24 323.95,592.07 326.68,590.91 329.41,589.76 332.14,588.61 334.88,587.48 337.61,586.36 340.34,585.24 343.07,584.14 345.8,583.05 348.53,581.96 351.26,580.89 353.99,579.83 356.72,578.77 359.45,577.73 362.19,576.7 364.92,575.67 367.65,574.66 370.38,573.66 373.11,572.66 375.84,571.68 378.57,570.71 381.3,569.74 384.03,568.79 386.76,567.85 389.5,566.92 392.23,566 394.96,565.08 397.69,564.18 400.42,563.29 403.15,562.41 405.88,561.54 408.61,560.68 411.34,559.83 414.07,558.99 416.81,558.16" fill="none" stroke="#ff0000" stroke-width="5.4" stroke-linejoin="round" stroke-linecap="round" />
<polyline points="72.4,745.1 75.43,738.13 78.16,731.38 80.89,726.12 83.62,721.96 86.36,718.75 89.09,716.07 91.82,713.75 94.55,711.67 97.28,709.8 100.01,708.08 102.74,706.49 105.47,705.05 108.2,703.68 110.93,702.32 113.66,700.96 116.4,699.55 119.13,698.12 121.86,696.67 124.59,695.21 127.32,693.72 130.05,692.22 132.78,690.68 135.51,689.13 138.24,687.62 140.97,686.11 143.71,684.6 146.44,683.1 149.17,681.6 151.9,680.11 154.63,678.62 157.36,677.13 160.09,675.64 162.82,674.15 165.55,672.66 168.28,671.17 171.02,669.68 173.75,668.19 176.48,666.69 179.21,665.19 181.94,663.69 184.67,662.19 187.4,660.69 190.13,659.19 192.86,657.68 195.59,656.18 198.33,654.68 201.06,653.18 203.79,651.68 206.52,650.19 209.25,648.7 211.98,647.21 214.71,645.73 217.44,644.25 220.17,642.77 222.9,641.3 225.64,639.84 228.37,638.38 231.1,636.92 233.83,635.47 236.56,634.03 239.29,632.6 242.02,631.17 244.75,629.75 247.48,628.33 250.21,626.92 252.95,625.52 255.68,624.13 258.41,622.74 261.14,621.37 263.87,620 266.6,618.63 269.33,617.28 272.06,615.94 274.79,614.6 277.52,613.27 280.26,611.95 282.99,610.64 285.72,609.34 288.45,608.05 291.18,606.76 293.91,605.49 296.64,604.22 299.37,602.96 302.1,601.71 304.83,600.48 307.57,599.25 310.3,598.03 313.03,596.82 315.76,595.62 318.49,594.43 321.22,593.24 323.95,592.07 326.68,590.91 329.41,589.76 332.14,588.61 334.88,587.48 337.61,586.36 340.34,585.24 343.07,584.14 345.8,583.05 348.53,581.96 351.26,580.89 353.99,579.83 356.72,578.77 359.45,577.73 362.19,576.7 364.92,575.67 367.65,574.66 370.38,573.66 373.11,572.66 375.84,571.68 378.57,570.71 381.3,569.74 384.03,568.79 386.76,567.85 389.5,566.92 392.23,566 394.96,565.08 397.69,564.18 400.42,563.29 403.15,562.41 405.88,561.54 408.61,560.68 411.34,559.83 414.07,558.99 416.81,558.16" fill="none" stroke="#ff0000" stroke-width="1.5" stroke-linejoin="round" stroke-linecap="round" marker-start="url(#mr)" marker-mid="url(#mr)" marker-end="url(#mr)"/>
<polyline points="113.66,680.44 116.4,684.5 119.13,688.41 121.86,692.2 124.59,696.11 127.32,700.21 130.05,704.01 132.78,707.47 135.51,710.65 138.24,713.63 140.97,716.48 143.71,719.21 146.44,721.99 149.17,724.78 151.9,727.48 154.63,730.08 157.36,732.59 160.09,735.02 162.82,737.37 165.55,739.64 168.28,741.83 171.02,743.96 173.75,746.03 176.48,748.03 179.21,749.97 181.94,751.85 184.67,753.69 187.4,755.47 190.13,757.2 192.86,758.88 195.59,760.52 198.33,762.12 201.06,763.67 203.79,765.19 206.52,766.67 209.25,768.11 211.98,769.52 214.71,770.89 217.44,772.24 220.17,773.55 222.9,774.83 225.64,776.08 228.37,777.31 231.1,778.51 233.83,779.68 236.56,780.83 239.29,781.96 242.02,783.06 244.75,784.14 247.48,785.2 250.21,786.24 252.95,787.26 255.68,788.26 258.41,789.24 261.14,790.2 263.87,791.15 266.6,792.08 269.33,792.99 272.06,793.89 274.79,794.78 277.52,795.65 280.26,796.5 282.99,797.34 285.72,798.17 288.45,798.99 291.18,799.79 293.91,800.59 296.64,801.37 299.37,802.14 302.1,802.9 304.83,803.65 307.57,804.39 310.3,805.12 313.03,805.84 315.76,806.55 318.49,807.26 321.22,807.95 323.95,808.64 326.68,809.32 329.41,809.99 332.14,810.65 334.88,811.31 337.61,811.96 340.34,812.61 343.07,813.25 345.8,813.88 348.53,814.51 351.26,815.13 353.99,815.74 356.72,816.35 359.45,816.96 362.19,817.56 364.92,818.15 367.65,818.75 370.38,819.33 373.11,819.92 375.84,820.5 378.57,821.07 381.3,821.64 384.03,822.21 386.76,822.78 389.5,823.34 392.23,823.9 394.96,824.46 397.69,825.01 400.42,825.56 403.15,826.11 405.88,826.66 408.61,827.2 411.34,827.74 414.07,828.29 416.81,828.82 419.54,829.36 422.27,829.9 425,830.43 427.73,830.96 430.46,831.49 433.19,832.02 435.92,832.55 438.65,833.08 441.38,833.61 444.12,834.13 446.85,834.66 449.58,835.18 452.31,835.71 455.04,836.23 457.77,836.76 460.5,837.28 463.23,837.8 465.96,838.33 468.69,838.85 471.43,839.37 474.16,839.9 476.89,840.42 479.62,840.94 482.35,841.47 485.08,841.99" fill="none" stroke="#0000cc" stroke-width="5.4" stroke-linejoin="round" stroke-linecap="round" />
<polyline points="108.2,670.84 110.93,675.87 113.66,680.44 116.4,684.5" fill="none" stroke="#0000cc" stroke-width="3.0" stroke-linejoin="round" stroke-linecap="round" />
<polyline points="72.5,559.3 74.8,585.2 78.16,594.93 80.89,605.28 83.62,613.17 86.36,620.55 89.09,627.65 91.82,634.64 94.55,641.49 97.28,648.04 100.01,654.36 102.74,660.29 105.47,665.71 108.2,670.84 110.93,675.87 113.66,680.44 116.4,684.5 119.13,688.41 121.86,692.2 124.59,696.11 127.32,700.21 130.05,704.01 132.78,707.47 135.51,710.65 138.24,713.63 140.97,716.48 143.71,719.21 146.44,721.99 149.17,724.78 151.9,727.48 154.63,730.08 157.36,732.59 160.09,735.02 162.82,737.37 165.55,739.64 168.28,741.83 171.02,743.96 173.75,746.03 176.48,748.03 179.21,749.97 181.94,751.85 184.67,753.69 187.4,755.47 190.13,757.2 192.86,758.88 195.59,760.52 198.33,762.12 201.06,763.67 203.79,765.19 206.52,766.67 209.25,768.11 211.98,769.52 214.71,770.89 217.44,772.24 220.17,773.55 222.9,774.83 225.64,776.08 228.37,777.31 231.1,778.51 233.83,779.68 236.56,780.83 239.29,781.96 242.02,783.06 244.75,784.14 247.48,785.2 250.21,786.24 252.95,787.26 255.68,788.26 258.41,789.24 261.14,790.2 263.87,791.15 266.6,792.08 269.33,792.99 272.06,793.89 274.79,794.78 277.52,795.65 280.26,796.5 282.99,797.34 285.72,798.17 288.45,798.99 291.18,799.79 293.91,800.59 296.64,801.37 299.37,802.14 302.1,802.9 304.83,803.65 307.57,804.39 310.3,805.12 313.03,805.84 315.76,806.55 318.49,807.26 321.22,807.95 323.95,808.64 326.68,809.32 329.41,809.99 332.14,810.65 334.88,811.31 337.61,811.96 340.34,812.61 343.07,813.25 345.8,813.88 348.53,814.51 351.26,815.13 353.99,815.74 356.72,816.35 359.45,816.96 362.19,817.56 364.92,818.15 367.65,818.75 370.38,819.33 373.11,819.92 375.84,820.5 378.57,821.07 381.3,821.64 384.03,822.21 386.76,822.78 389.5,823.34 392.23,823.9 394.96,824.46 397.69,825.01 400.42,825.56 403.15,826.11 405.88,826.66 408.61,827.2 411.34,827.74 414.07,828.29 416.81,828.82 419.54,829.36 422.27,829.9 425,830.43 427.73,830.96 430.46,831.49 433.19,832.02 435.92,832.55 438.65,833.08 441.38,833.61 444.12,834.13 446.85,834.66 449.58,835.18 452.31,835.71 455.04,836.23 457.77,836.76 460.5,837.28 463.23,837.8 465.96,838.33 468.69,838.85 471.43,839.37 474.16,839.9 476.89,840.42 479.62,840.94 482.35,841.47 485.08,841.99" fill="none" stroke="#0000cc" stroke-width="1.5" stroke-linejoin="round" stroke-linecap="round" marker-start="url(#mb)" marker-mid="url(#mb)" marker-end="url(#mb)"/>
<line x1="72.7" y1="506.6" x2="618.9" y2="506.6" stroke="#8a8a8a" stroke-width="2" />
<line x1="618.9" y1="506.6" x2="618.9" y2="841.5" stroke="#8a8a8a" stroke-width="2" />
<line x1="72.7" y1="506.6" x2="72.7" y2="841.5" stroke="#3f3f3f" stroke-width="2" />
<line x1="72.7" y1="841.5" x2="618.9" y2="841.5" stroke="#3f3f3f" stroke-width="2" />
<text x="53.6" y="846.9" font-size="20.5" fill="#404040" text-anchor="end" font-weight="normal" >0</text>
<text x="53.6" y="791.08" font-size="20.5" fill="#404040" text-anchor="end" font-weight="normal" >0.2</text>
<text x="53.6" y="735.26" font-size="20.5" fill="#404040" text-anchor="end" font-weight="normal" >0.4</text>
<text x="53.6" y="679.44" font-size="20.5" fill="#404040" text-anchor="end" font-weight="normal" >0.6</text>
<text x="53.6" y="623.62" font-size="20.5" fill="#404040" text-anchor="end" font-weight="normal" >0.8</text>
<text x="53.6" y="567.8" font-size="20.5" fill="#404040" text-anchor="end" font-weight="normal" >1</text>
<text x="53.6" y="511.98" font-size="20.5" fill="#404040" text-anchor="end" font-weight="normal" >1.2</text>
<text x="72.2" y="872.5" font-size="20.5" fill="#404040" text-anchor="middle" font-weight="normal" >0</text>
<text x="208.75" y="872.5" font-size="20.5" fill="#404040" text-anchor="middle" font-weight="normal" >10</text>
<text x="345.3" y="872.5" font-size="20.5" fill="#404040" text-anchor="middle" font-weight="normal" >20</text>
<text x="481.85" y="872.5" font-size="20.5" fill="#404040" text-anchor="middle" font-weight="normal" >30</text>
<text x="618.4" y="872.5" font-size="20.5" fill="#404040" text-anchor="middle" font-weight="normal" >40</text>
<text x="294.2" y="901.8" font-size="21" fill="#111111" text-anchor="start" font-weight="bold" textLength="102.1" lengthAdjust="spacingAndGlyphs" >Time / sec</text>
<text transform="translate(16.6,755.6) rotate(-90)" font-size="22" font-weight="bold" fill="#111111" textLength="159.1" lengthAdjust="spacingAndGlyphs">Cell Voltage / V</text>
<text x="277.2" y="711.3" font-size="21" fill="#555" textLength="138.6" lengthAdjust="spacingAndGlyphs">I = 14 mA cm<tspan font-size="12" dy="-4.2">-</tspan><tspan font-size="14.5" dy="-3.3">2</tspan></text>
<line x1="309.5" y1="679.7" x2="352.6" y2="592.48" stroke="#777" stroke-width="1.2" />
<polygon points="355.7,586.2 354.85,594.7 349.47,592.04" fill="#777"/>
<line x1="309.6" y1="720.5" x2="360.7" y2="805.7" stroke="#777" stroke-width="1.2" />
<polygon points="364.3,811.7 357.61,806.38 362.76,803.3" fill="#777"/>
<text x="745.3" y="488" font-size="29" fill="#111" text-anchor="start" font-weight="normal" >(d)</text>
<line x1="708.9" y1="844.3" x2="715.4" y2="844.3" stroke="#3f3f3f" stroke-width="1.6" />
<line x1="710.4" y1="815.93" x2="715.4" y2="815.93" stroke="#3f3f3f" stroke-width="1.6" />
<line x1="708.9" y1="787.56" x2="715.4" y2="787.56" stroke="#3f3f3f" stroke-width="1.6" />
<line x1="710.4" y1="759.19" x2="715.4" y2="759.19" stroke="#3f3f3f" stroke-width="1.6" />
<line x1="708.9" y1="730.82" x2="715.4" y2="730.82" stroke="#3f3f3f" stroke-width="1.6" />
<line x1="710.4" y1="702.45" x2="715.4" y2="702.45" stroke="#3f3f3f" stroke-width="1.6" />
<line x1="708.9" y1="674.08" x2="715.4" y2="674.08" stroke="#3f3f3f" stroke-width="1.6" />
<line x1="710.4" y1="645.71" x2="715.4" y2="645.71" stroke="#3f3f3f" stroke-width="1.6" />
<line x1="708.9" y1="617.34" x2="715.4" y2="617.34" stroke="#3f3f3f" stroke-width="1.6" />
<line x1="710.4" y1="588.97" x2="715.4" y2="588.97" stroke="#3f3f3f" stroke-width="1.6" />
<line x1="708.9" y1="560.6" x2="715.4" y2="560.6" stroke="#3f3f3f" stroke-width="1.6" />
<line x1="710.4" y1="532.23" x2="715.4" y2="532.23" stroke="#3f3f3f" stroke-width="1.6" />
<line x1="708.9" y1="503.86" x2="715.4" y2="503.86" stroke="#3f3f3f" stroke-width="1.6" />
<line x1="715.4" y1="844.3" x2="715.4" y2="850.8" stroke="#3f3f3f" stroke-width="1.6" />
<line x1="750.04" y1="844.3" x2="750.04" y2="849.3" stroke="#3f3f3f" stroke-width="1.6" />
<line x1="784.69" y1="844.3" x2="784.69" y2="849.3" stroke="#3f3f3f" stroke-width="1.6" />
<line x1="819.34" y1="844.3" x2="819.34" y2="849.3" stroke="#3f3f3f" stroke-width="1.6" />
<line x1="853.98" y1="844.3" x2="853.98" y2="850.8" stroke="#3f3f3f" stroke-width="1.6" />
<line x1="888.62" y1="844.3" x2="888.62" y2="849.3" stroke="#3f3f3f" stroke-width="1.6" />
<line x1="923.27" y1="844.3" x2="923.27" y2="849.3" stroke="#3f3f3f" stroke-width="1.6" />
<line x1="957.91" y1="844.3" x2="957.91" y2="849.3" stroke="#3f3f3f" stroke-width="1.6" />
<line x1="992.56" y1="844.3" x2="992.56" y2="850.8" stroke="#3f3f3f" stroke-width="1.6" />
<line x1="1027.2" y1="844.3" x2="1027.2" y2="849.3" stroke="#3f3f3f" stroke-width="1.6" />
<line x1="1061.85" y1="844.3" x2="1061.85" y2="849.3" stroke="#3f3f3f" stroke-width="1.6" />
<line x1="1096.49" y1="844.3" x2="1096.49" y2="849.3" stroke="#3f3f3f" stroke-width="1.6" />
<line x1="1131.14" y1="844.3" x2="1131.14" y2="850.8" stroke="#3f3f3f" stroke-width="1.6" />
<line x1="1165.78" y1="844.3" x2="1165.78" y2="849.3" stroke="#3f3f3f" stroke-width="1.6" />
<line x1="1200.43" y1="844.3" x2="1200.43" y2="849.3" stroke="#3f3f3f" stroke-width="1.6" />
<line x1="1235.08" y1="844.3" x2="1235.08" y2="849.3" stroke="#3f3f3f" stroke-width="1.6" />
<line x1="1269.72" y1="844.3" x2="1269.72" y2="850.8" stroke="#3f3f3f" stroke-width="1.6" />
<polyline points="715.6,557.3 729.5,648.9 738.7,690.6 744.2,722.9 749.9,743.5 755.9,773.7 765.7,817.6 771.5,843.8" fill="none" stroke="#82a3d2" stroke-width="1.6" stroke-linejoin="round" stroke-linecap="round" />
<polygon points="715.6,553.3 719.3,557.3 715.6,561.3 711.9,557.3" fill="#4f81bd"/>
<polygon points="729.5,644.9 733.2,648.9 729.5,652.9 725.8,648.9" fill="#4f81bd"/>
<polygon points="738.7,686.6 742.4,690.6 738.7,694.6 735,690.6" fill="#4f81bd"/>
<polygon points="744.2,718.9 747.9,722.9 744.2,726.9 740.5,722.9" fill="#4f81bd"/>
<polygon points="749.9,739.5 753.6,743.5 749.9,747.5 746.2,743.5" fill="#4f81bd"/>
<polygon points="755.9,769.7 759.6,773.7 755.9,777.7 752.2,773.7" fill="#4f81bd"/>
<polygon points="765.7,813.6 769.4,817.6 765.7,821.6 762,817.6" fill="#4f81bd"/>
<polygon points="715.27,570.96 718.05,578.65 720.53,589.08 723.02,597.39 725.51,606.35 728.01,614.91 730.51,624.85 733.02,633.8 735.52,641.21 738.04,647.65 740.55,654.53 743.05,661.41 745.55,667.77 748.06,673.83 750.56,679.58 753.07,685.02 755.58,690.16 758.08,695 760.59,699.53 763.09,703.79 765.59,707.85 768.08,711.81 770.57,715.72 773.06,719.65 775.55,723.57 778.04,727.47 780.53,731.34 783.03,735.17 785.52,738.94 788.02,742.65 790.51,746.28 793.01,749.82 795.51,753.26 798.01,756.6 800.51,759.84 803.01,762.96 805.51,765.99 808.01,768.91 810.52,771.74 813.02,774.48 815.52,777.14 818.03,779.72 820.53,782.22 823.04,784.65 825.54,787.02 828.05,789.31 830.55,791.55 833.06,793.72 835.57,795.84 838.08,797.9 840.59,799.91 843.09,801.87 845.6,803.79 848.11,805.66 850.62,807.48 853.13,809.27 855.64,811.02 858.15,812.72 860.66,814.4 863.17,816.04 865.68,817.64 868.19,819.22 870.69,820.76 873.2,822.28 875.71,823.77 878.22,825.23 880.73,826.67 883.23,828.09 885.74,829.48 888.25,830.85 890.76,832.2 893.26,833.53 895.77,834.84 898.27,836.14 900.78,837.42 903.28,838.68 905.79,839.93 908.29,841.16 910.8,842.38 913.3,843.58 915.8,844.77 918.3,845.95 920.8,847.12 924.08,840.09 921.59,838.94 919.1,837.78 916.61,836.61 914.13,835.44 911.64,834.25 909.16,833.05 906.67,831.84 904.19,830.62 901.7,829.38 899.22,828.13 896.74,826.86 894.26,825.57 891.77,824.27 889.29,822.95 886.81,821.61 884.33,820.25 881.85,818.87 879.37,817.47 876.89,816.04 874.41,814.59 871.93,813.11 869.45,811.6 866.97,810.07 864.49,808.5 862.01,806.91 859.53,805.28 857.05,803.61 854.57,801.91 852.09,800.17 849.61,798.39 847.13,796.56 844.65,794.69 842.17,792.78 839.69,790.81 837.2,788.79 834.72,786.72 832.24,784.59 829.76,782.4 827.27,780.15 824.79,777.82 822.31,775.43 819.82,772.96 817.34,770.42 814.85,767.79 812.36,765.07 809.88,762.26 807.39,759.35 804.9,756.34 802.41,753.21 799.92,749.97 797.43,746.61 794.94,743.15 792.45,739.6 789.95,735.96 787.46,732.23 784.97,728.45 782.47,724.61 779.97,720.73 777.47,716.83 774.97,712.92 772.47,709.04 769.97,705.15 767.48,701.17 765,697.03 762.52,692.62 760.04,687.9 757.55,682.89 755.07,677.55 752.59,671.91 750.1,665.94 747.62,659.64 745.13,652.8 742.65,646 740.18,639.68 737.7,632.35 735.21,623.47 732.72,613.58 730.23,605.05 727.74,596.07 725.23,587.69 722.73,577.19 719.93,569.44" fill="#c0504d" stroke="#c0504d" stroke-width="0.6" stroke-linejoin="round"/>
<circle cx="922.44" cy="843.6" r="3.88" fill="#c0504d"/>
<polyline points="716.2,556.9 717.6,570.2 720.39,577.92" fill="none" stroke="#c0504d" stroke-width="1.5" stroke-linejoin="round" stroke-linecap="round" marker-start="url(#ms)" marker-mid="url(#ms)"/>
<polyline points="717.34,577.22 719.28,591.75 721.22,601.51 723.16,609.85 725.1,617.67 727.04,624.92 728.98,631.57 730.92,637.71 732.86,643.47 734.8,648.91 736.74,654.09 738.68,659.05 740.62,663.83 742.56,668.44 744.5,672.92 746.44,677.27 748.38,681.47 750.32,685.53 752.26,689.43 754.2,693.17 756.14,696.74 758.08,700.14 760.02,703.39 761.96,706.55 763.9,709.64 765.84,712.7 767.78,715.75 769.72,718.81 771.66,721.84 773.6,724.84 775.54,727.79 777.48,730.68 779.42,733.51 781.36,736.25 783.3,738.92 785.24,741.51 787.18,744.02 789.12,746.47 791.06,748.84 793,751.15 794.94,753.4 796.89,755.58 798.83,757.71 800.77,759.78 802.71,761.78 804.65,763.74 806.59,765.64 808.53,767.49 810.47,769.29 812.41,771.03 814.35,772.73 816.29,774.39 818.23,775.99 820.17,777.56 822.11,779.08 824.05,780.55 825.99,781.99 827.93,783.38 829.87,784.74 831.81,786.06 833.75,787.34 835.69,788.59 837.63,789.81 839.57,790.99 841.51,792.14 843.45,793.26 845.39,794.36 847.33,795.42 849.27,796.45 851.21,797.46 853.15,798.45 855.09,799.4 857.03,800.33 858.97,801.24 860.91,802.13 862.85,802.99 864.79,803.83 866.73,804.65 868.67,805.45 870.61,806.22 872.55,806.98 874.49,807.72 876.43,808.44 878.37,809.15 880.31,809.83 882.25,810.5 884.19,811.15 886.13,811.79 888.07,812.41 890.01,813.01 891.95,813.6 893.89,814.18 895.83,814.74 897.77,815.29 899.71,815.83 901.65,816.35 903.59,816.86 905.53,817.35 907.47,817.84 909.41,818.31 911.35,818.77 913.29,819.22 915.23,819.66 917.17,820.09 919.11,820.51 921.05,820.92 922.99,821.32 924.93,821.71 926.87,822.09 928.81,822.47 930.75,822.83 932.69,823.19 934.63,823.53 936.57,823.87 938.51,824.2 940.45,824.53 942.39,824.84 944.33,825.15 946.27,825.45 948.21,825.75 950.15,826.04 952.09,826.32 954.03,826.6 955.97,826.87 957.91,827.13 959.86,827.39 961.8,827.64 963.74,827.89 965.68,828.13 967.62,828.37 969.56,828.6 971.5,828.83 973.44,829.05 975.38,829.27 977.32,829.48 979.26,829.69 981.2,829.9 983.14,830.1 985.08,830.29 987.02,830.49 988.96,830.68 990.9,830.86 992.84,831.05 994.78,831.23 996.72,831.4 998.66,831.58 1000.6,831.75 1002.54,831.92 1004.48,832.08 1006.42,832.24 1008.36,832.4 1010.3,832.56 1012.24,832.72 1014.18,832.87 1016.12,833.02 1018.06,833.17 1020,833.31 1021.94,833.46 1023.88,833.6 1025.82,833.74 1027.76,833.88 1029.7,834.02 1031.64,834.16 1033.58,834.29 1035.52,834.42 1037.46,834.56 1039.4,834.69 1041.34,834.82 1043.28,834.95 1045.22,835.07 1047.16,835.2 1049.1,835.33 1051.04,835.45 1052.98,835.58 1054.92,835.7 1056.86,835.82 1058.8,835.95 1060.74,836.07 1062.68,836.19 1064.62,836.31 1066.56,836.43 1068.5,836.55 1070.44,836.67 1072.38,836.8 1074.32,836.92 1076.26,837.04 1078.2,837.16 1080.14,837.28 1082.08,837.4 1084.02,837.52 1085.96,837.64 1087.9,837.76 1089.84,837.89 1091.78,838.01 1093.72,838.13 1095.66,838.25 1097.6,838.38 1099.54,838.5 1101.48,838.63 1103.42,838.75 1105.36,838.88 1107.3,839.01 1109.24,839.13 1111.18,839.26 1113.12,839.39 1115.06,839.52 1117,839.65 1118.94,839.79 1120.89,839.92 1122.83,840.05 1124.77,840.19 1126.71,840.32 1128.65,840.46 1130.59,840.6 1132.53,840.74 1134.47,840.88 1136.41,841.03 1138.35,841.17 1140.29,841.31 1142.23,841.46 1144.17,841.61 1146.11,841.76 1148.05,841.91 1149.99,842.06 1151.93,842.22 1153.87,842.37 1155.81,842.53 1157.75,842.69 1159.69,842.85 1161.63,843.01 1163.57,843.17 1165.51,843.34 1167.45,843.51 1169.39,843.68 1171.33,843.85 1173.27,844.02 1175.21,844.2 1177.15,844.37 1179.09,844.55 1181.03,844.73 1182.97,844.91" fill="none" stroke="#9bbb59" stroke-width="6.0" stroke-linejoin="round" stroke-linecap="round" />
<polyline points="716.2,560.5 717.34,577.22 719.28,591.75 721.22,601.51 723.16,609.85 725.1,617.67 727.04,624.92 728.98,631.57 730.92,637.71 732.86,643.47 734.8,648.91 736.74,654.09 738.68,659.05 740.62,663.83 742.56,668.44 744.5,672.92 746.44,677.27 748.38,681.47 750.32,685.53 752.26,689.43 754.2,693.17 756.14,696.74 758.08,700.14 760.02,703.39 761.96,706.55 763.9,709.64 765.84,712.7 767.78,715.75 769.72,718.81 771.66,721.84 773.6,724.84 775.54,727.79 777.48,730.68 779.42,733.51 781.36,736.25 783.3,738.92 785.24,741.51 787.18,744.02 789.12,746.47 791.06,748.84 793,751.15 794.94,753.4 796.89,755.58 798.83,757.71 800.77,759.78 802.71,761.78 804.65,763.74 806.59,765.64 808.53,767.49 810.47,769.29 812.41,771.03 814.35,772.73 816.29,774.39 818.23,775.99 820.17,777.56 822.11,779.08 824.05,780.55 825.99,781.99 827.93,783.38 829.87,784.74 831.81,786.06 833.75,787.34 835.69,788.59 837.63,789.81 839.57,790.99 841.51,792.14 843.45,793.26 845.39,794.36 847.33,795.42 849.27,796.45 851.21,797.46 853.15,798.45 855.09,799.4 857.03,800.33 858.97,801.24 860.91,802.13 862.85,802.99 864.79,803.83 866.73,804.65 868.67,805.45 870.61,806.22 872.55,806.98 874.49,807.72 876.43,808.44 878.37,809.15 880.31,809.83 882.25,810.5 884.19,811.15 886.13,811.79 888.07,812.41 890.01,813.01 891.95,813.6 893.89,814.18 895.83,814.74 897.77,815.29 899.71,815.83 901.65,816.35 903.59,816.86 905.53,817.35 907.47,817.84 909.41,818.31 911.35,818.77 913.29,819.22 915.23,819.66 917.17,820.09 919.11,820.51 921.05,820.92 922.99,821.32 924.93,821.71 926.87,822.09 928.81,822.47 930.75,822.83 932.69,823.19 934.63,823.53 936.57,823.87 938.51,824.2 940.45,824.53 942.39,824.84 944.33,825.15 946.27,825.45 948.21,825.75 950.15,826.04 952.09,826.32 954.03,826.6 955.97,826.87 957.91,827.13 959.86,827.39 961.8,827.64 963.74,827.89 965.68,828.13 967.62,828.37 969.56,828.6 971.5,828.83 973.44,829.05 975.38,829.27 977.32,829.48 979.26,829.69 981.2,829.9 983.14,830.1 985.08,830.29 987.02,830.49 988.96,830.68 990.9,830.86 992.84,831.05 994.78,831.23 996.72,831.4 998.66,831.58 1000.6,831.75 1002.54,831.92 1004.48,832.08 1006.42,832.24 1008.36,832.4 1010.3,832.56 1012.24,832.72 1014.18,832.87 1016.12,833.02 1018.06,833.17 1020,833.31 1021.94,833.46 1023.88,833.6 1025.82,833.74 1027.76,833.88 1029.7,834.02 1031.64,834.16 1033.58,834.29 1035.52,834.42 1037.46,834.56 1039.4,834.69 1041.34,834.82 1043.28,834.95 1045.22,835.07 1047.16,835.2 1049.1,835.33 1051.04,835.45 1052.98,835.58 1054.92,835.7 1056.86,835.82 1058.8,835.95 1060.74,836.07 1062.68,836.19 1064.62,836.31 1066.56,836.43 1068.5,836.55 1070.44,836.67 1072.38,836.8 1074.32,836.92 1076.26,837.04 1078.2,837.16 1080.14,837.28 1082.08,837.4 1084.02,837.52 1085.96,837.64 1087.9,837.76 1089.84,837.89 1091.78,838.01 1093.72,838.13 1095.66,838.25 1097.6,838.38 1099.54,838.5 1101.48,838.63 1103.42,838.75 1105.36,838.88 1107.3,839.01 1109.24,839.13 1111.18,839.26 1113.12,839.39 1115.06,839.52 1117,839.65 1118.94,839.79 1120.89,839.92 1122.83,840.05 1124.77,840.19 1126.71,840.32 1128.65,840.46 1130.59,840.6 1132.53,840.74 1134.47,840.88 1136.41,841.03 1138.35,841.17 1140.29,841.31 1142.23,841.46 1144.17,841.61 1146.11,841.76 1148.05,841.91 1149.99,842.06 1151.93,842.22 1153.87,842.37 1155.81,842.53 1157.75,842.69 1159.69,842.85 1161.63,843.01 1163.57,843.17 1165.51,843.34 1167.45,843.51 1169.39,843.68 1171.33,843.85 1173.27,844.02 1175.21,844.2 1177.15,844.37 1179.09,844.55 1181.03,844.73 1182.97,844.91" fill="none" stroke="#9bbb59" stroke-width="1.5" stroke-linejoin="round" stroke-linecap="round" marker-start="url(#mt)" marker-mid="url(#mt)" marker-end="url(#mt)"/>
<line x1="715.4" y1="503.8" x2="1269.7" y2="503.8" stroke="#626262" stroke-width="2" />
<line x1="1269.7" y1="503.8" x2="1269.7" y2="844.3" stroke="#767676" stroke-width="2" />
<line x1="715.4" y1="503.8" x2="715.4" y2="844.3" stroke="#3f3f3f" stroke-width="2" />
<line x1="715.4" y1="844.3" x2="1269.7" y2="844.3" stroke="#3f3f3f" stroke-width="2" />
<text x="697.3" y="850.6" font-size="20.5" fill="#404040" text-anchor="end" font-weight="normal" >0</text>
<text x="697.3" y="793.86" font-size="20.5" fill="#404040" text-anchor="end" font-weight="normal" >0.2</text>
<text x="697.3" y="737.12" font-size="20.5" fill="#404040" text-anchor="end" font-weight="normal" >0.4</text>
<text x="697.3" y="680.38" font-size="20.5" fill="#404040" text-anchor="end" font-weight="normal" >0.6</text>
<text x="697.3" y="623.64" font-size="20.5" fill="#404040" text-anchor="end" font-weight="normal" >0.8</text>
<text x="697.3" y="566.9" font-size="20.5" fill="#404040" text-anchor="end" font-weight="normal" >1</text>
<text x="697.3" y="510.16" font-size="20.5" fill="#404040" text-anchor="end" font-weight="normal" >1.2</text>
<text x="715.4" y="876.3" font-size="20.5" fill="#404040" text-anchor="middle" font-weight="normal" >0</text>
<text x="853.98" y="876.3" font-size="20.5" fill="#404040" text-anchor="middle" font-weight="normal" >20</text>
<text x="992.56" y="876.3" font-size="20.5" fill="#404040" text-anchor="middle" font-weight="normal" >40</text>
<text x="1131.14" y="876.3" font-size="20.5" fill="#404040" text-anchor="middle" font-weight="normal" >60</text>
<text x="1269.72" y="876.3" font-size="20.5" fill="#404040" text-anchor="middle" font-weight="normal" >80</text>
<text x="942.5" y="904.5" font-size="21" fill="#111111" text-anchor="start" font-weight="bold" textLength="102.6" lengthAdjust="spacingAndGlyphs" >Time / sec</text>
<text transform="translate(660,755.8) rotate(-90)" font-size="22" font-weight="bold" fill="#111111" textLength="159.9" lengthAdjust="spacingAndGlyphs">Cell Voltage / V</text>
<text x="819.5" y="647" font-size="20.5" fill="#404040" textLength="140.3" lengthAdjust="spacingAndGlyphs">I = 14 mA cm<tspan font-size="12" dy="-4.2">-</tspan><tspan font-size="14.5" dy="-3.3">2</tspan></text>
<line x1="1149.4" y1="539.9" x2="1167" y2="539.9" stroke="#6d94c8" stroke-width="1.6" />
<polygon points="1158.2,535.9 1161.8,539.9 1158.2,543.9 1154.6,539.9" fill="#4f81bd"/>
<text x="1169" y="545.5" font-size="21" fill="#333" text-anchor="start" font-weight="normal" textLength="78.2" lengthAdjust="spacingAndGlyphs" >0.00 mg</text>
<line x1="1149.4" y1="570.3" x2="1167" y2="570.3" stroke="#d0817f" stroke-width="1.6" />
<rect x="1154.4" y="566.3" width="8" height="8" fill="#c0504d"/>
<text x="1169" y="576.5" font-size="21" fill="#333" text-anchor="start" font-weight="normal" textLength="78.2" lengthAdjust="spacingAndGlyphs" >0.95 mg</text>
<line x1="1149.4" y1="600.7" x2="1167" y2="600.7" stroke="#a9c77a" stroke-width="1.6" />
<polygon points="1158.2,596.2 1162.6,604.2 1153.8,604.2" fill="#9bbb59"/>
<text x="1169" y="607.4" font-size="21" fill="#333" text-anchor="start" font-weight="normal" textLength="78.2" lengthAdjust="spacingAndGlyphs" >3.68 mg</text>
</g></svg>
</body></html>
